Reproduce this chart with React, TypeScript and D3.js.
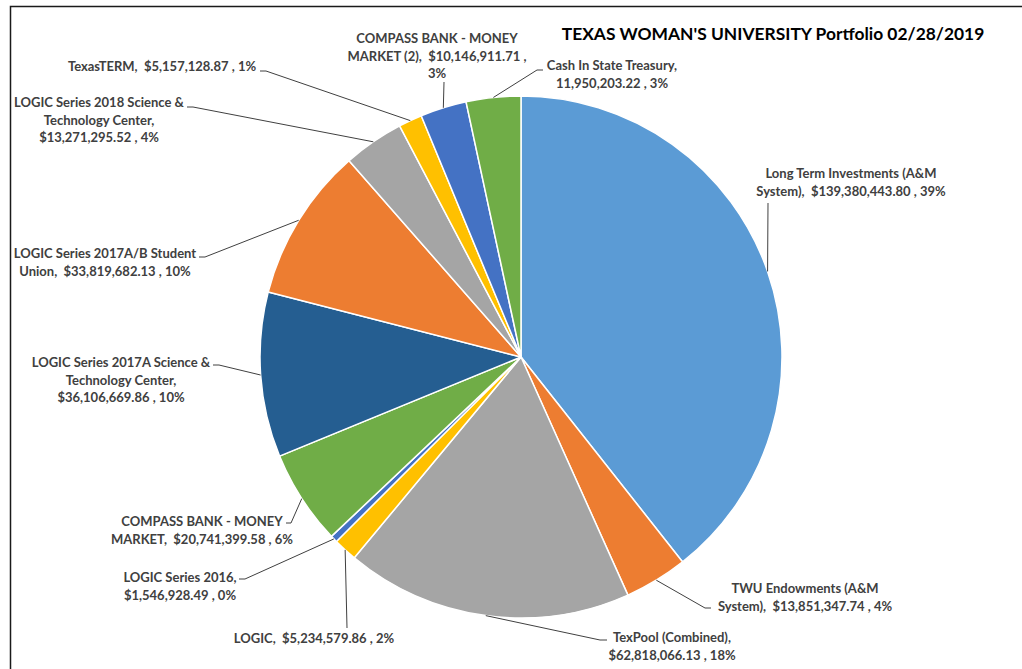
import React from "react";
import * as d3 from "d3";

const categories = [
  "Long Term Investments (A&M System)",
  "TWU Endowments (A&M System)",
  "TexPool (Combined)",
  "LOGIC",
  "LOGIC Series 2016",
  "COMPASS BANK - MONEY MARKET",
  "LOGIC Series 2017A Science & Technology Center",
  "LOGIC Series 2017A/B Student Union",
  "LOGIC Series 2018 Science & Technology Center",
  "TexasTERM",
  "COMPASS BANK - MONEY MARKET (2)",
  "Cash In State Treasury",
];

const values = [
  139380443.8, 13851347.74, 62818066.13, 5234579.86, 1546928.49, 20741399.58,
  36106669.86, 33819682.13, 13271295.52, 5157128.87, 10146911.71, 11950203.22,
];

const labelLines = [
  ["Long Term Investments (A&M", "System),  $139,380,443.80 , 39%"],
  ["TWU Endowments (A&M", "System),  $13,851,347.74 , 4%"],
  ["TexPool (Combined),", "$62,818,066.13 , 18%"],
  ["LOGIC,  $5,234,579.86 , 2%"],
  ["LOGIC Series 2016,", "$1,546,928.49 , 0%"],
  ["COMPASS BANK - MONEY", "MARKET,  $20,741,399.58 , 6%"],
  ["LOGIC Series 2017A Science &", "Technology Center,", "$36,106,669.86 , 10%"],
  ["LOGIC Series 2017A/B Student", "Union,  $33,819,682.13 , 10%"],
  ["LOGIC Series 2018 Science &", "Technology Center,", "$13,271,295.52 , 4%"],
  ["TexasTERM,  $5,157,128.87 , 1%"],
  ["COMPASS BANK - MONEY", "MARKET (2),  $10,146,911.71 ,", "3%"],
  ["Cash In State Treasury,", "11,950,203.22 , 3%"],
];

const title = "TEXAS WOMAN'S UNIVERSITY Portfolio 02/28/2019";

const colors = [
  "#5B9BD5", "#ED7D31", "#A5A5A5", "#FFC000", "#4472C4", "#70AD47",
  "#255E91", "#ED7D31", "#A5A5A5", "#FFC000", "#4472C4", "#70AD47",
];

// label layout: text centre x, first-line centre y, leader start points
const layout: { x: number; y: number; leader: [number, number][] }[] = [
  { x: 851, y: 173, leader: [[768, 203]] },
  { x: 805, y: 588, leader: [[711, 608], [705, 608]] },
  { x: 672, y: 637, leader: [[607, 640], [600, 640]] },
  { x: 314, y: 638, leader: [[347, 628]] },
  { x: 180, y: 577, leader: [[239, 579], [245, 579]] },
  { x: 202, y: 521, leader: [[286, 523], [291, 523]] },
  { x: 121, y: 362, leader: [[213, 365], [219, 365]] },
  { x: 105, y: 253, leader: [[199, 257], [205, 257]] },
  { x: 99, y: 102, leader: [[187, 107], [193, 107]] },
  { x: 162, y: 66, leader: [[260, 71], [266, 71]] },
  { x: 437, y: 38, leader: [[444, 82]] },
  { x: 612, y: 65, leader: [[543, 70], [537, 70]] },
];

const W = 1022;
const H = 669;
const cx = 521;
const cy = 357;
const R = 261;
const lineH = 17.5;

export default function App() {
  const pie = d3.pie<number>().sort(null).value((d) => d);
  const arcs = pie(values);
  const arc = d3.arc<d3.PieArcDatum<number>>().innerRadius(0).outerRadius(R);
  const font = "Lato, 'Open Sans', sans-serif";

  return (
    <svg
      width={W}
      height={H}
      style={{ position: "absolute", left: 0, top: 0, background: "#fff" }}
    >
      <rect x={0} y={0} width={W} height={H} fill="#fff" />
      <path d={`M10.5,${H} L10.5,6.5 L${W},6.5`} fill="none" stroke="#1a1a1a" strokeWidth={1.5} />
      <g transform={`translate(${cx},${cy})`}>
        {arcs.map((a, i) => (
          <path key={categories[i]} d={arc(a) || ""} fill={colors[i]} stroke="#fff" strokeWidth={1.5} strokeLinejoin="round" />
        ))}
      </g>
      {arcs.map((a, i) => {
        const mid = (a.startAngle + a.endAngle) / 2;
        const ex = cx + R * Math.sin(mid);
        const ey = cy - R * Math.cos(mid);
        const pts = [...layout[i].leader, [ex, ey]];
        const line = d3.line()(pts as [number, number][]) || "";
        return <path key={"l" + i} d={line} fill="none" stroke="#404040" strokeWidth={1} />;
      })}
      {labelLines.map((lines, i) => (
        <text
          key={"t" + i}
          fontFamily={font}
          fontWeight={700}
          fontSize={13}
          fill="#404040"
          textAnchor="middle"
          style={{ whiteSpace: "pre" }}
        >
          {lines.map((s, j) => (
            <tspan key={j} x={layout[i].x} y={layout[i].y + j * lineH} dominantBaseline="central">
              {s}
            </tspan>
          ))}
        </text>
      ))}
      <text
        x={773}
        y={33}
        fontFamily={font}
        fontWeight={700}
        fontSize={17.4}
        fill="#000"
        textAnchor="middle"
        dominantBaseline="central"
      >
        {title}
      </text>
    </svg>
  );
}
